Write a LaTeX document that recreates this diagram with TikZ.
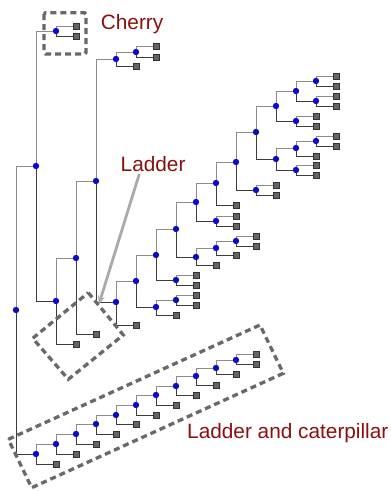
\documentclass[tikz,border=0pt]{standalone}
\usepackage{fontspec}
\setmainfont{Liberation Sans}
\usetikzlibrary{arrows.meta}
\definecolor{dotblue}{RGB}{10,10,200}
\definecolor{leafgray}{RGB}{100,100,100}
\definecolor{leafedge}{RGB}{50,50,50}
\definecolor{lightline}{RGB}{140,140,140}
\definecolor{darkline}{RGB}{60,60,60}
\definecolor{boxgray}{RGB}{105,105,105}
\definecolor{lblred}{RGB}{140,15,15}
\definecolor{arrowgray}{RGB}{170,170,170}
\begin{document}
\begin{tikzpicture}[x=1pt,y=-1pt,
  idot/.style={circle,fill=dotblue,inner sep=0pt,minimum size=6.4pt},
  leafbox/.style={rectangle,fill=leafgray,draw=leafedge,line width=0.6pt,inner sep=0pt,minimum size=5.8pt},
  upedge/.style={draw=lightline,line width=1pt},
  lowedge/.style={draw=darkline,line width=1pt},
  dbox/.style={draw=boxgray,line width=3.3pt,dash pattern=on 6pt off 4pt},
  lbl/.style={text=lblred,inner sep=0pt,anchor=base west,font=\fontsize{20.8}{24}\selectfont}]
\fill[white] (0,0) rectangle (391,491);
\useasboundingbox (0,0) rectangle (391,491);

% upper part
\node[idot] (r) at (16,310) {};
\node[idot] (a) at (36,166) {};
\node[idot] (ch) at (56,31) {};
\node[leafbox] (ch1) at (76,26) {};
\node[leafbox] (ch2) at (76,36) {};
\node[idot] (b) at (56,301) {};
\node[idot] (d) at (76,258) {};
\node[leafbox] (bL) at (76,344) {};
\node[idot] (e) at (96,181) {};
\node[leafbox] (dL) at (96,334) {};
\node[idot] (f) at (116,59) {};
\node[idot] (g) at (116,302) {};
\node[idot] (f1) at (136,52) {};
\node[leafbox] (fL) at (136,66) {};
\node[leafbox] (f1a) at (156,46) {};
\node[leafbox] (f1b) at (156,57) {};
\node[idot] (h) at (136,281) {};
\node[leafbox] (gL) at (136,325) {};
\node[idot] (i) at (156,255) {};
\node[idot] (j) at (156,307) {};
\node[idot] (j1) at (176,300) {};
\node[leafbox] (jL) at (176,315) {};
\node[leafbox] (j1a) at (196,295) {};
\node[leafbox] (j1b) at (196,305) {};
\node[idot] (k) at (176,229) {};
\node[idot] (l) at (176,280) {};
\node[leafbox] (la) at (196,275) {};
\node[leafbox] (lb) at (196,285) {};
\node[idot] (m) at (196,202) {};
\node[idot] (n) at (196,257) {};
\node[idot] (n1) at (216,248) {};
\node[leafbox] (nL) at (216,265) {};
\node[idot] (n2) at (236,241) {};
\node[leafbox] (n1L) at (236,255) {};
\node[leafbox] (n2a) at (256,236) {};
\node[leafbox] (n2b) at (256,246) {};
\node[idot] (o) at (216,183) {};
\node[idot] (p) at (216,221) {};
\node[leafbox] (pa) at (236,216) {};
\node[leafbox] (pb) at (236,226) {};
\node[idot] (q) at (236,162) {};
\node[leafbox] (oL) at (236,205) {};
\node[idot] (s) at (256,132) {};
\node[idot] (t) at (256,190) {};
\node[leafbox] (ta) at (276,185) {};
\node[leafbox] (tb) at (276,195) {};
\node[idot] (u) at (276,106) {};
\node[idot] (v) at (276,159) {};
\node[idot] (w) at (296,148) {};
\node[idot] (vx) at (296,170) {};
\node[leafbox] (xa) at (316,165) {};
\node[leafbox] (xb) at (316,175) {};
\node[idot] (w1) at (316,141) {};
\node[leafbox] (wL) at (316,156) {};
\node[leafbox] (w1a) at (336,136) {};
\node[leafbox] (w1b) at (336,146) {};
\node[idot] (uy) at (296,91) {};
\node[idot] (uz) at (296,121) {};
\node[leafbox] (za) at (316,116) {};
\node[leafbox] (zb) at (316,126) {};
\node[idot] (uy1) at (316,81) {};
\node[idot] (uy2) at (316,101) {};
\node[leafbox] (y1a) at (336,76) {};
\node[leafbox] (y1b) at (336,86) {};
\node[leafbox] (y2a) at (336,96) {};
\node[leafbox] (y2b) at (336,106) {};

% caterpillar
\foreach \k/\x/\y/\ly in {0/36/454/464,1/56/444/454,2/76/434/444,3/96/424/434,4/116/415/424,5/136/405/415,6/156/395/405,7/176/386/395,8/196/376/385,9/216/368/374}{
  \node[idot] (c\k) at (\x,\y) {};
  \node[leafbox] (cl\k) at (\x+20,\ly) {};
}
\node[idot] (c10) at (236,360) {};
\node[leafbox] (c10a) at (256,354) {};
\node[leafbox] (c10b) at (256,364) {};

% upper edges
\foreach \pa/\ch in {r/a,a/ch,ch/ch1,b/d,d/e,e/f,f/f1,f1/f1a,g/h,h/i,j/j1,j1/j1a,i/k,l/la,k/m,n/n1,n1/n2,n2/n2a,m/o,p/pa,o/q,q/s,t/ta,s/u,v/w,vx/xa,w/w1,w1/w1a,u/uy,uz/za,uy/uy1,uy1/y1a,uy2/y2a,c0/c1,c1/c2,c2/c3,c3/c4,c4/c5,c5/c6,c6/c7,c7/c8,c8/c9,c9/c10,c10/c10a}
  \draw[upedge] (\pa) |- (\ch);
% lower edges
\foreach \pa/\ch in {r/c0,a/b,ch/ch2,b/bL,d/dL,e/g,f/fL,f1/f1b,g/gL,h/j,j/jL,j1/j1b,i/l,l/lb,k/n,n/nL,n1/n1L,n2/n2b,m/p,p/pb,o/oL,q/t,t/tb,s/v,v/vx,vx/xb,w/wL,w1/w1b,u/uz,uz/zb,uy/uy2,uy1/y1b,uy2/y2b,c0/cl0,c1/cl1,c2/cl2,c3/cl3,c4/cl4,c5/cl5,c6/cl6,c7/cl7,c8/cl8,c9/cl9,c10/c10b}
  \draw[lowedge] (\pa) |- (\ch);

% dashed boxes
\draw[dbox,rounded corners=1.5pt] (44,12.7) rectangle (86,54);
\draw[dbox] (88.3,292.7) -- (123.3,335) -- (68.3,379.3) -- (32.7,338.3) -- cycle;
\draw[dbox] (8.3,439.3) -- (260,325) -- (283.3,373.3) -- (31.7,487.7) -- cycle;

% labels
\node[lbl] (cherrylbl) at (100.7,29) {Cherry};
\node[lbl] (ladderlbl) at (120.5,171.7) {Ladder};
\node[lbl] (catlbl) at (187,438.3) {Ladder and caterpillar};

% arrow
\coordinate (arrstart) at (139.3,174);
\coordinate (arrtip) at (99,304);
\draw[arrowgray,line width=2.8pt,-{Stealth[length=8pt,width=7pt]}] (arrstart) -- (arrtip);
\end{tikzpicture}
\end{document}
